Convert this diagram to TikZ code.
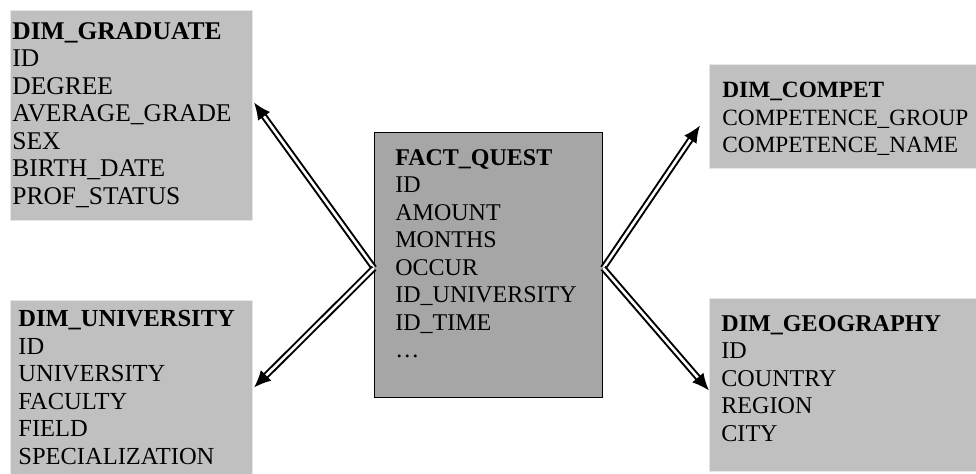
\documentclass[tikz,border=0pt]{standalone}
\usepackage{fontspec}
\setmainfont{Liberation Serif}
\usetikzlibrary{arrows.meta,calc}
\definecolor{tablegray}{HTML}{C0C0C0}
\definecolor{tableedge}{HTML}{E6E6E6}
\definecolor{factgray}{HTML}{A6A6A6}

\begin{document}
\begin{tikzpicture}[x=0.5pt,y=-0.5pt,
  dimbox/.style={fill=tablegray,draw=tableedge,line width=0.5pt,anchor=north west,inner sep=0pt},
  factbox/.style={fill=factgray,draw=black,line width=0.6pt,anchor=north west,inner sep=0pt},
  cols/.style={anchor=north west,inner sep=0pt,align=left,font=\fontsize{#1}{13.75}\selectfont},
  cols/.default=12.5,
  link/.style={double=white,double distance=1.3pt,line width=1pt,-{Latex[length=8.5pt,width=7.5pt]}}]
  \useasboundingbox (0,0) rectangle (976,474);

  \node[dimbox,minimum width=121pt,minimum height=105pt] (grad) at (10,10) {};
  \node[dimbox,minimum width=121pt,minimum height=87pt] (uni) at (10,300) {};
  \node[factbox,minimum width=114pt,minimum height=132.5pt] (fact) at (374,132) {};
  \node[dimbox,minimum width=133.5pt,minimum height=52pt] (comp) at (709,64) {};
  \node[dimbox,minimum width=133.5pt,minimum height=86.5pt] (geo) at (709,298) {};

  \node[cols=12.75] (gradtxt) at (12,22) { \textbf{DIM\_GRADUATE} \\ ID \\ DEGREE \\ AVERAGE\_GRADE \\ SEX \\ BIRTH\_DATE \\ PROF\_STATUS };
  \node[cols=12.25] (unitxt) at (18,310) { \textbf{DIM\_UNIVERSITY} \\ ID \\ UNIVERSITY \\ FACULTY \\ FIELD \\ SPECIALIZATION };
  \node[cols=12] (facttxt) at (395,149) { \textbf{FACT\_QUEST} \\ ID \\ AMOUNT \\ MONTHS \\ OCCUR \\ ID\_UNIVERSITY \\ ID\_TIME \\ … };
  \node[cols=11.65] (comptxt) at (722,82) { \textbf{DIM\_COMPET} \\ COMPETENCE\_GROUP \\ COMPETENCE\_NAME };
  \node[cols=12.05] (geotxt) at (721,315) { \textbf{DIM\_GEOGRAPHY} \\ ID \\ COUNTRY \\ REGION \\ CITY };

  \coordinate (lhub) at ($(fact.west)+(0,3)$);
  \coordinate (rhub) at ($(fact.east)+(0,3)$);

  \draw[link] (lhub) -- ($(grad.east)+(1,-13)$);
  \draw[link] (lhub) -- ($(uni.east)+(1,0)$);
  \draw[link] (rhub) -- ($(comp.west)+(-9,9)$);
  \draw[link] (rhub) -- ($(geo.west)+(0,5.5)$);
\end{tikzpicture}
\end{document}
